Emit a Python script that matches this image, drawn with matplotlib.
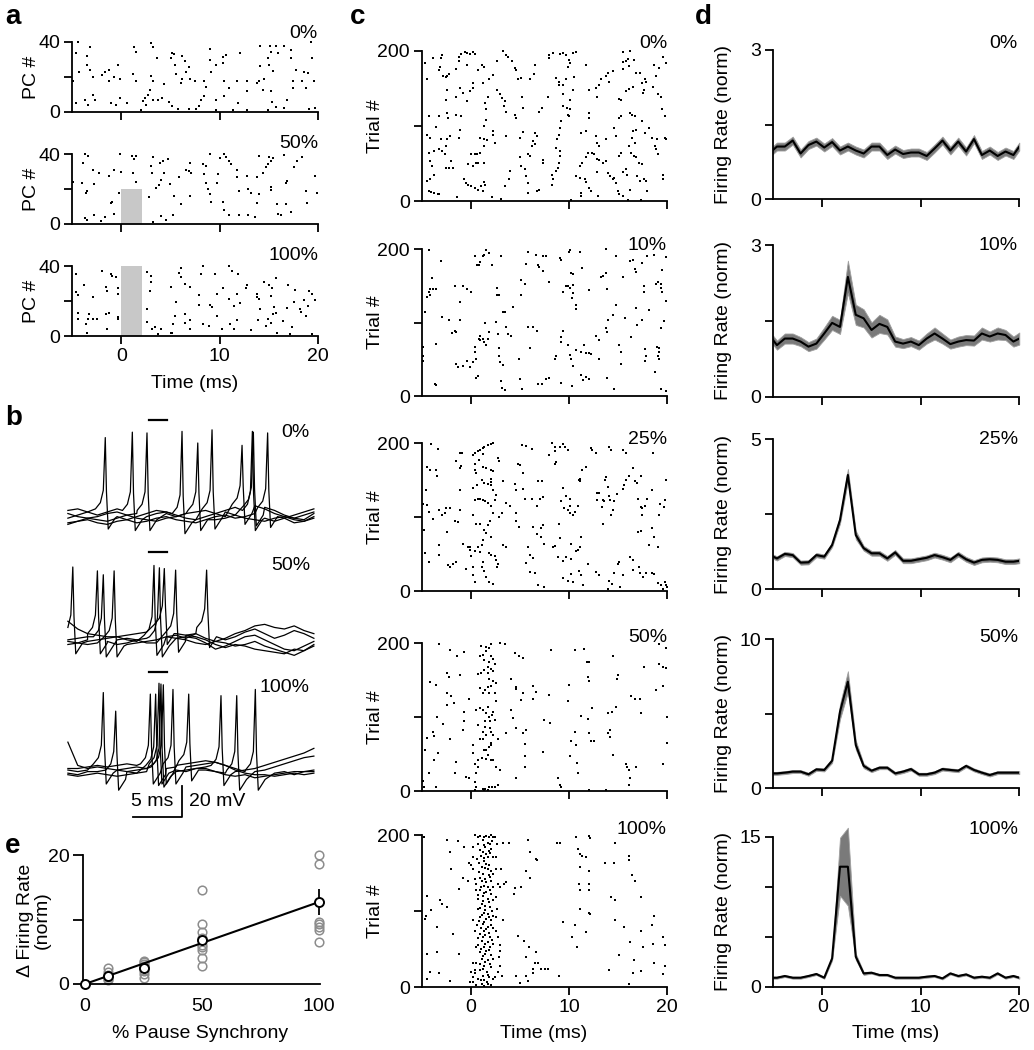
import numpy as np
import matplotlib
matplotlib.use('Agg')
import matplotlib.pyplot as plt

plt.rcParams['font.family'] = ['Liberation Sans', 'DejaVu Sans']
plt.rcParams['font.size'] = 14

W, H = 1034, 1050
FS = 14

# ---------------- panel a: PC rasters (time ms, PC #) ----------------
a_labels = ['0%', '50%', '100%']
a_pause = [0, 20, 40]   # height of grey pause box
a_spk_0 = [(-4.35,40),(-4.6,33.5),(-4.9,18),(-4.3,23),(-4.55,5),(-3.5,32),(-3.5,27),(-3.2,37),(-3.2,24),(-2.9,20),
           (-3.7,7),(-3.4,4),(-2.9,10),(-2.65,7),(-2.0,21),(-1.6,23),(-1.2,24),(-1.2,17.5),(-0.7,20),(-0.3,27),
           (-0.1,19),(-1.05,5),(-0.55,4),(-0.15,8),(0.6,5),(1.3,37),(1.55,34.5),(1.15,22),(1.55,18),(2.0,1),
           (2.25,6.5),(2.45,8),(2.5,4),(2.7,10),(2.9,12.5),(3.0,20.5),(3.0,39.5),(3.2,37),(3.2,18),(3.2,7),
           (3.6,31),(3.75,7),(4.35,16),(4.15,8),(4.9,6),(5.1,31),(5.2,34),(5.4,33),(5.5,27),(5.6,22),
           (5.2,3.5),(5.75,2),(6.2,32),(6.2,19),(6.1,16.5),(6.45,29),(6.6,23),(6.9,26),(7.0,19),(6.9,2),
           (7.45,17.5),(7.6,2),(7.9,3.5),(8.15,7),(8.45,17.5),(8.65,14.5),(8.45,9),(9.0,36),(9.0,30),(9.15,23),
           (9.65,27),(9.6,7),(9.6,1.2),(10.3,31.5),(10.3,28),(10.4,18),(10.4,9),(10.6,32.5),(11.0,14),(11.35,1.2),
           (11.75,17.5),(12.1,33.5),(11.9,5),(12.8,17.5),(12.8,12),(12.8,1.2),(13.8,16.5),(14.0,17.5),(14.1,37.5),(14.15,26.5),
           (14.5,19),(14.4,12.5),(14.9,1.2),(15.0,27),(14.9,31),(15.1,37.5),(15.2,34.5),(15.4,23.5),(15.2,12),(15.3,5.5),
           (15.7,37.5),(15.95,34),(15.7,3),(16.5,37.5),(16.5,2.5),(16.8,7),(17.3,35.5),(17.3,31),(17.5,17.5),(17.5,14),
           (17.75,24),(18.35,18),(18.6,23),(18.8,14),(19.0,22.5),(19.25,40),(19.35,31),(19.6,17.5),(19.1,1.5),(19.7,2.5)]
a_spk_50 = [(-4.9,24),(-3.9,34.7),(-3.7,40),(-3.35,39),(-3.95,23.6),(-3.45,19),(-3.55,17.5),(-2.75,23),(-2.9,31),(-2.25,29),
            (-3.7,3.2),(-3.5,2.3),(-2.75,5),(-2.1,2),(-1.65,4),(-1.2,27.4),(-0.7,31),(-0.9,12.8),(-1.05,11.8),(-0.7,6),
            (-0.15,40),(-0.05,30),(-0.2,17.5),(1.1,39),(1.3,37),(1.55,39),(1.2,29),(1.55,24),(3.2,38.5),(3.0,33),
            (3.1,29),(2.85,15.6),(3.25,1.3),(3.5,20.4),(3.8,22.3),(4.05,25),(4.3,29),(4.2,36),(3.9,35),(4.05,4.6),
            (4.55,2.3),(4.75,37),(5.0,23),(5.25,5),(5.4,16),(5.9,27),(6.1,11.4),(6.6,31),(6.9,30.5),(7.0,34.7),
            (7.1,29),(6.95,16),(8.35,34.3),(8.45,28.6),(8.65,33),(8.65,23.6),(8.8,19.8),(9.0,17),(9.0,40),(9.15,12.8),
            (9.7,23.6),(9.8,28.6),(10.0,37.5),(10.4,40),(10.6,38.5),(10.95,36),(11.2,34.3),(10.3,12.8),(10.4,8),(11.0,5),
            (11.75,31),(11.75,27),(11.95,19),(11.95,5),(12.8,27.4),(12.9,19.8),(13.15,17.9),(12.9,5),(13.6,4.2),(13.8,26.7),
            (14.0,39),(14.0,17),(13.8,12),(14.4,29.3),(14.7,32.4),(14.9,34.3),(15.0,38.5),(15.2,36),(15.45,38),(15.2,21),
            (15.2,19.4),(15.8,11.4),(15.95,6),(16.2,5),(16.5,39.4),(16.7,23.6),(16.9,24.8),(16.7,11.4),(17.3,7),(17.6,32.7),
            (17.9,36),(18.35,38.5),(18.8,19),(18.9,12.2),(19.7,27.4),(19.85,18)]
a_spk_100 = [(-4.6,35.4),(-4.6,25.2),(-4.4,23.3),(-4.35,13),(-4.35,9.8),(-3.5,1.5),(-3.8,29),(-3.25,12.7),(-3.4,9.8),(-3.55,7),
             (-2.85,22.3),(-2.9,9.8),(-2.5,9.8),(-1.95,37.3),(-1.5,28),(-1.4,26),(-1.55,12.7),(-1.2,13),(-1.4,4),(-1.0,35.4),
             (-0.95,34.2),(-0.55,33.8),(-0.35,27.7),(-0.3,23.8),(-0.3,10.8),(-0.3,9.8),(2.6,36.7),(3.0,34.2),(3.0,31),(2.9,26),
             (2.6,15.6),(2.6,7.9),(3.15,4),(3.45,5),(3.7,1.2),(4.05,4),(5.05,1.5),(5.2,2),(5.1,28),(5.25,7),
             (5.5,11.7),(5.6,19.4),(5.85,36),(6.1,39),(6.1,33.8),(6.45,30),(6.5,12.3),(6.45,7.3),(6.95,9.2),(7.0,4),
             (6.95,28),(7.9,18),(7.95,23.3),(8.1,35.4),(8.35,40),(8.35,7),(9.0,18),(8.9,6),(9.25,16.5),(9.5,35.4),
             (9.7,24.2),(9.7,11.7),(10.2,4),(10.3,27.7),(10.95,40),(11.3,37.3),(11.0,21.3),(11.1,7),(11.45,17),(11.5,4),
             (11.75,9.2),(11.75,23.8),(11.9,35.4),(12.1,18.8),(12.65,27.7),(12.8,29),(13.2,3.5),(13.75,24.2),(13.8,22.3),(14.0,21.3),
             (13.9,9.2),(14.15,15.6),(14.5,31),(14.7,6),(14.95,9.8),(15.0,29),(15.2,22.7),(15.3,27.7),(15.4,12.7),(15.2,7.3),
             (15.5,16.5),(15.7,33.4),(15.7,13),(15.85,1.5),(16.45,8.5),(16.9,16),(17.0,29),(17.2,1.2),(17.4,5.4),(17.55,19.4),
             (17.65,26.5),(18.15,15.6),(18.3,13.6),(18.6,20.8),(18.8,11.7),(19.0,17),(19.1,25.8),(19.35,24.2),(19.35,1.2),(19.7,20.8)]
a_spikes = [a_spk_0, a_spk_50, a_spk_100]

# ---------------- panel b: membrane potential traces (mV, relative to rest) ----------------
b_labels = ['0%', '50%', '100%']
b_time = np.arange(-5.5, 20.0, 1.0)   # baseline sample times (ms)
b_base_0 = [[-2, 0, 2, 3, 1, -1, -3, -1, 1, 3, 2, 0, -2, -3, -1, 1, 3, 5, 2, 0, -2, -4, -2, 0, 2, 4],
            [3, 4, 2, 0, 2, 4, 2, 0, -1, 1, 2, 0, -2, -3, -1, 1, 2, 0, -2, -3, -4, -2, -1, -3, -4, -1],
            [-5, -4, -2, -3, -4, -2, 0, 1, 0, 2, 1, -1, 1, 2, 3, 1, -1, 1, 4, 6, 4, 1, -1, -2, -3, 1],
            [1, -1, -2, -1, 1, 2, 0, -2, -3, -4, -2, -1, 1, 0, -2, -3, -2, 0, 1, 3, 5, 3, 0, -2, 0, 2],
            [-6, -4, -3, -5, -6, -4, -3, -5, -4, -2, -1, -3, -4, -5, -3, -1, 0, -2, -1, 1, 2, 0, -2, -5, -4, -2]]
b_spk_0 = [[(-1.7, 50), (6.1, 54), (13.25, 54)],
           [(1.05, 53.5), (9.15, 55)],
           [(2.54, 53), (12.2, 45)],
           [(7.7, 46.5), (13.35, 53.5)],
           [(14.8, 53)]]
b_base_50 = [[1, 0, -1, 0, 1, 2, 0, -1, -2, 0, 2, 1, 0, -2, -3, -1, 1, 4, 6, 9, 10, 8, 7, 9, 6, 4],
             [-1, -2, 0, 1, -1, -3, -2, 0, 1, -1, -2, 1, 2, 1, -2, -6, -4, -1, 2, 3, 0, -3, -6, -7, -4, -1],
             [0, 1, 2, 1, -1, 0, 1, 0, -2, -2, 0, 2, 3, 2, 0, -3, -5, -3, -4, -6, -7, -8, -9, -6, -7, -4],
             [-3, -2, -3, -2, 0, -1, -3, -2, -1, 0, 2, 3, 1, 4, 5, 2, 0, 2, 5, 7, 4, 1, 3, 6, 4, 1],
             [12, 7, 4, 3, 2, 2, 3, 4, 5, 6, 7, 4, 3, 4, 1, -1, -2, -4, -3, -1, -4, -6, -8, -10, -7, -3]]
b_spk_50 = [[(-5.0, 47), (3.25, 48)],
            [(-2.5, 44.5), (3.8, 46.5)],
            [(-1.9, 42), (5.45, 45)],
            [(-0.8, 44.5), (8.6, 45)],
            [(4.3, 46)]]
b_base_100 = [[0, -1, 0, 1, 1, 0, -1, -2, -1, 1, 1, 0, -1, 1, 2, 1, 0, -1, 0, 1, 3, 5, 7, 9, 11, 14],
              [-2, -3, -1, -1, -2, -3, -1, 0, 1, -1, -2, -1, 0, 1, 1, -1, -2, -3, -3, -1, 0, 2, 4, 6, 8, 9],
              [1, 1, 2, 3, 2, 3, 4, 3, 1, 0, -1, 1, 2, 3, 4, 5, 3, 1, -1, -3, -3, -2, -1, -3, -1, 0],
              [-3, -4, -3, -2, -3, -4, -3, -2, -1, 0, 1, 2, 3, 1, 0, -1, -3, -4, -3, -5, -4, -3, -2, -1, -1, -1],
              [18, 3, 1, 2, 1, 0, 1, 2, 1, 0, 1, 3, 4, 5, 6, 5, 3, 0, -2, -3, -3, -4, -3, -2, -3, -2]]
b_spk_100 = [[(-1.9, 50), (3.76, 56), (10.06, 48)],
             [(-0.64, 38), (3.96, 55.5), (11.66, 48)],
             [(2.88, 49), (5.18, 52), (13.55, 52)],
             [(3.42, 49), (6.78, 49)],
             [(4.2, 55)]]
b_bases = [b_base_0, b_base_50, b_base_100]
b_spks = [b_spk_0, b_spk_50, b_spk_100]
b_offsets = [193.5, 113, 29]        # vertical stacking of the three groups (mV)
b_bar_y = [255, 170, 92]
b_bar_t = (2.7, 4.6)
# spike waveform (ms from peak, mV from baseline); None = peak
spike_dt = [-1.0, -0.5, -0.2, 0.0, 0.12, 0.3, 0.6, 1.0]
spike_dv = [3, 7, 15, None, 14, -10, -7, -3]

# ---------------- panel c: trial rasters (time ms, trial #) ----------------
c_labels = ['0%', '10%', '25%', '50%', '100%']
c_spk_0 = [(-4.7,184),(-4.5,163),(-4.3,113),(-4.5,88),(-4.2,84),(-4.3,64),(-4.2,53),(-4.0,46),(-4.2,29),(-4.5,27),
           (-4.3,13),(-4.1,12),(-3.7,11),(-3.3,10),(-3.2,9),(-3.7,35),(-3.7,66),(-3.2,69),(-2.9,66),(-2.6,62),
           (-2.5,73),(-3.2,113),(-3.5,98),(-3.0,190),(-3.1,179),(-3.2,175),(-2.8,166),(-2.5,165),(-2.4,167),(-2.2,169),
           (-2.4,148),(-2.5,135),(-2.4,117),(-2.3,111),(-2.1,86),(-2.4,82),(-3.0,82),(-2.5,44),(-2.2,44),(-1.8,44),
           (-2.0,53),(-1.5,115),(-1.5,139),(-1.4,6),(-2.9,195),(-3.8,190),(-1.5,176),(-1.2,186),(-1.2,192),(-0.95,196),
           (-0.6,198),(-0.4,181),(-0.4,197),(-0.1,196),(0.24,199),(0.4,196),(-1.05,150),(-0.8,144),(-0.95,113),(-1.1,95),
           (-1.2,84),(-0.4,133),(-0.1,146),(0.24,157),(0.24,150),(-0.3,49),(0.24,46),(0.58,51),(0.75,51),(-0.5,24),
           (-0.7,29),(-0.3,22),(0.07,20),(0.4,18),(0.75,15),(1.0,20),(1.3,25),(1.5,22),(1.25,13),(1.3,51),
           (1.3,73),(1.65,81),(1.3,83),(0.9,64),(0.64,63),(0.4,62),(0.07,62),(0.9,84),(1.3,100),(1.6,108),
           (1.5,131),(1.75,139),(1.6,122),(1.1,181),(1.3,179),(0.75,175),(1.25,157),(1.9,162),(2.3,168),(2.3,93),
           (2.3,88),(2.45,77),(2.7,186),(2.7,148),(2.95,143),(3.2,137),(3.45,133),(3.35,126),(3.6,119),(3.6,87),
           (3.45,20),(3.1,3),(2.2,6),(3.9,29),(4.0,40),(3.8,192),(3.6,195),(3.3,200),(4.2,186),(4.5,177),
           (4.6,175),(4.5,115),(4.6,111),(4.8,162),(5.15,164),(5.25,139),(5.3,124),(5.3,92),(5.05,84),(5.15,46),
           (5.0,58),(5.8,62),(6.0,60),(5.5,42),(5.65,33),(5.8,24),(5.8,11),(6.2,73),(6.35,80),(6.5,76),
           (6.5,90),(6.7,86),(6.0,162),(6.5,181),(6.4,169),(6.7,13),(7.0,15),(7.3,124),(7.0,119),(7.4,55),
           (7.4,51),(7.9,139),(8.0,190),(8.0,195),(8.4,197),(8.3,22),(8.4,29),(8.3,35),(8.7,40),(8.9,44),
           (9.0,51),(9.05,60),(9.1,66),(8.7,71),(8.8,82),(9.0,88),(9.05,97),(9.2,106),(8.7,164),(9.0,159),
           (9.0,155),(9.4,155),(9.45,142),(9.7,162),(9.45,126),(9.8,124),(9.9,115),(10.0,113),(10.1,122),(10.1,135),
           (10.4,148),(10.5,165),(9.9,179),(10.4,197),(10.75,199),(9.05,196),(9.4,197),(9.7,195),(10.0,188),(10.1,184),
           (10.2,2),(10.75,33),(11.1,31),(11.25,11),(11.25,7),(11.6,29),(11.75,25),(12.0,18),(12.3,13),(12.95,7),
           (11.1,46),(11.35,51),(11.7,58),(11.9,64),(11.25,91),(11.75,93),(12.1,111),(12.1,117),(12.4,64),(12.6,62),
           (12.85,56),(13.1,54),(13.5,51),(11.75,181),(12.1,148),(12.8,150),(13.1,154),(12.85,139),(13.3,162),(13.8,167),
           (13.95,171),(14.1,158),(14.5,173),(12.8,86),(12.85,77),(13.1,73),(12.85,38),(13.8,82),(13.8,53),(13.95,37),
           (14.2,33),(14.5,29),(14.6,31),(14.8,24),(15.0,13),(15.15,10),(15.5,7),(16.0,2),(15.15,60),(15.3,64),
           (15.5,38),(15.8,42),(15.9,35),(14.8,86),(14.6,97),(15.15,111),(15.3,113),(15.3,135),(15.1,136),(15.5,176),
           (15.5,185),(15.8,186),(16.0,189),(16.1,180),(15.8,146),(16.1,149),(16.5,152),(16.2,117),(16.4,115),(16.7,113),
           (16.85,95),(16.5,93),(16.4,84),(16.7,77),(16.1,73),(16.3,64),(16.6,60),(16.85,59),(17.1,51),(17.45,49),
           (16.9,33),(17.2,27),(17.7,29),(17.9,27),(18.0,13),(17.35,2),(16.2,15),(15.5,199),(16.2,200),(16.6,188),
           (16.85,171),(17.2,170),(17.45,157),(17.8,162),(17.9,159),(17.6,144),(17.7,148),(17.5,106),(17.8,91),(18.2,97),
           (18.5,84),(18.8,73),(18.9,69),(19.05,62),(18.95,82),(18.6,152),(18.7,181),(18.9,166),(19.2,177),(19.4,139),
           (19.05,142),(19.5,122),(19.8,113),(19.8,84),(19.9,82),(19.55,34),(19.55,29),(19.9,184),(19.55,192)]
c_spk_10 = [(-4.3,198),(-4.0,161),(-4.2,146),(-4.3,142),(-4.5,135),(-4.7,114),(-4.2,137),(-3.8,145),(-3.5,146),(-3.0,184),
            (-3.5,71),(-3.6,17),(-3.5,15),(-4.85,66),(-4.85,55),(-4.9,47),(-2.9,108),(-2.2,103),(-1.6,88),(-1.5,87),
            (-1.9,86),(-1.05,103),(-1.6,149),(-0.8,150),(-0.4,145),(0.07,141),(-1.1,128),(-1.5,43),(-1.3,39),(-0.8,41),
            (-0.4,48),(-0.1,39),(0.24,46),(0.5,50),(0.4,60),(0.4,66),(0.9,82),(0.85,78),(0.9,76),(1.25,78),
            (1.4,73),(1.6,69),(1.75,78),(1.85,87),(1.5,99),(0.58,25),(0.75,27),(0.4,190),(0.64,178),(0.85,178),
            (0.9,182),(1.25,190),(1.4,192),(1.6,198),(1.85,195),(2.2,178),(3.1,190),(2.7,147),(2.9,137),(2.7,138),
            (2.55,101),(2.8,85),(2.9,65),(2.9,55),(2.95,46),(3.3,42),(3.05,21),(3.2,11),(3.45,8),(3.3,114),
            (3.6,94),(3.8,85),(4.15,81),(3.45,114),(4.3,121),(4.9,50),(5.05,23),(5.25,9),(5.15,137),(5.15,158),
            (5.5,153),(5.6,180),(5.8,196),(6.05,65),(5.8,94),(6.35,94),(6.7,88),(6.6,192),(6.85,178),(7.0,175),
            (7.4,170),(7.4,190),(7.7,190),(8.0,155),(6.85,16),(7.3,17),(7.7,23),(8.0,25),(8.65,55),(8.55,50),
            (9.2,73),(9.2,80),(9.4,89),(9.2,18),(9.05,188),(9.2,185),(9.45,142),(9.7,150),(9.9,150),(10.15,147),
            (10.35,133),(10.4,140),(10.4,151),(10.7,119),(10.75,124),(10.15,56),(9.9,69),(10.25,51),(10.4,41),(10.7,62),
            (10.35,14),(10.0,196),(10.1,198),(10.25,167),(10.4,166),(11.1,196),(11.35,174),(11.5,69),(11.25,28),(11.4,22),
            (11.75,26),(12.1,23),(11.25,60),(11.7,59),(12.1,58),(12.3,57),(12.1,144),(12.8,82),(13.05,76),(13.05,51),
            (13.3,162),(13.45,163),(13.8,167),(13.85,146),(13.95,104),(13.8,92),(13.85,87),(13.85,25),(13.8,200),(14.8,191),
            (14.5,110),(14.8,124),(14.55,9),(15.15,69),(15.3,60),(15.3,43),(15.5,162),(15.75,106),(16.3,80),(16.2,183),
            (16.5,185),(16.7,173),(16.8,169),(16.85,120),(16.9,96),(17.45,104),(17.5,181),(17.7,142),(17.7,150),(17.8,64),
            (17.85,55),(17.8,48),(18.0,191),(18.2,117),(18.7,192),(18.9,153),(19.05,155),(19.4,147),(19.5,142),(19.4,153),
            (19.5,172),(18.95,66),(19.15,65),(19.2,60),(19.05,55),(19.15,51),(18.8,32),(19.4,92),(19.65,102),(19.85,129),
            (19.9,189),(19.85,7),(19.4,9)]
c_spk_25 = [(-4.1,199),(-3.3,192),(-4.5,168),(-4.2,163),(-3.5,164),(-3.4,156),(-4.6,137),(-4.85,118),(-4.5,116),(-4.3,107),
            (-3.8,97),(-3.2,110),(-2.9,103),(-2.5,112),(-2.1,112),(-2.6,105),(-1.6,94),(-1.3,93),(-1.1,110),(-1.1,137),
            (-1.5,176),(-1.1,186),(-0.85,186),(-1.0,169),(-1.05,166),(-4.8,82),(-4.7,51),(-4.3,39),(-3.2,48),(-3.2,62),
            (-2.4,80),(-2.1,33),(-2.3,35),(-1.8,37),(-1.5,39),(-0.8,64),(-0.5,30),(-0.3,60),(-0.1,55),(0.07,47),
            (0.24,33),(0.24,21),(0.4,12),(-0.03,60),(0.4,54),(0.75,60),(1.1,62),(1.4,83),(1.75,89),(2.0,94),
            (1.6,79),(1.25,69),(2.1,73),(1.85,51),(2.1,48),(2.45,47),(0.9,53),(1.25,39),(1.1,33),(1.4,27),
            (1.6,19),(1.9,12),(2.3,10),(2.6,42),(2.7,33),(2.8,37),(0.58,91),(0.9,91),(0.24,103),(0.4,123),
            (0.75,125),(0.9,124),(1.2,123),(1.5,121),(1.75,119),(2.1,115),(2.3,106),(0.24,139),(0.64,143),(1.1,150),
            (1.4,146),(1.75,145),(2.1,147),(2.3,137),(2.1,152),(2.1,143),(0.4,164),(0.58,159),(0.4,171),(0.85,177),
            (1.25,168),(1.6,166),(2.1,164),(2.3,162),(0.24,184),(0.4,186),(0.75,189),(0.9,191),(1.2,193),(1.4,195),
            (1.75,197),(2.1,199),(2.3,200),(1.25,185),(2.8,180),(2.9,176),(2.6,130),(2.45,123),(2.9,100),(3.3,148),
            (3.2,105),(3.3,62),(3.6,60),(3.6,119),(4.0,115),(4.6,95),(4.6,105),(4.6,137),(4.9,87),(4.8,171),
            (5.0,170),(5.3,159),(5.25,197),(5.65,196),(6.2,192),(4.5,144),(5.3,138),(5.5,125),(6.2,125),(6.7,115),
            (6.35,87),(6.7,77),(7.2,85),(7.35,89),(7.2,73),(7.5,64),(5.8,59),(6.05,49),(5.65,38),(6.35,44),
            (6.5,24),(6.0,26),(6.85,8),(7.5,6),(7.1,124),(7.4,127),(6.85,148),(7.3,149),(8.0,184),(8.3,200),
            (8.55,195),(8.55,189),(8.7,175),(8.55,171),(9.05,195),(9.4,198),(9.65,195),(9.9,191),(9.2,122),(9.4,139),
            (9.7,128),(10.1,125),(10.1,115),(9.55,112),(9.9,110),(10.1,105),(10.4,103),(10.6,107),(10.9,115),(11.1,151),
            (11.1,148),(11.35,164),(11.75,168),(11.0,150),(9.0,91),(9.05,72),(8.4,60),(8.55,61),(8.9,46),(9.45,40),
            (9.7,46),(10.2,43),(10.75,54),(10.9,55),(11.25,73),(11.1,60),(10.2,64),(9.4,17),(9.9,14),(10.2,23),
            (10.4,12),(11.0,27),(11.25,21),(11.4,8),(11.9,37),(12.3,193),(12.4,191),(12.8,186),(12.85,133),(13.1,132),
            (12.85,123),(13.5,123),(13.6,121),(13.4,114),(13.8,154),(13.7,150),(13.95,140),(14.1,128),(14.2,123),(14.5,110),
            (14.3,103),(14.6,121),(14.9,131),(13.5,91),(12.8,26),(13.1,21),(14.1,14),(14.4,10),(14.6,24),(15.0,37),
            (15.1,39),(15.5,21),(15.2,5),(13.95,3),(14.1,195),(14.3,191),(15.5,191),(15.8,186),(15.65,143),(15.8,150),
            (16.1,156),(15.55,138),(16.5,166),(16.7,148),(16.9,146),(17.35,156),(17.0,125),(17.35,113),(17.5,112),(17.8,115),
            (18.0,124),(17.45,103),(18.5,137),(19.15,103),(19.3,118),(19.7,114),(19.8,123),(19.9,150),(18.6,186),(18.5,85),
            (19.05,60),(18.7,73),(18.2,62),(17.0,80),(17.35,81),(16.25,46),(16.5,42),(16.5,28),(17.2,24),(17.1,33),
            (17.6,19),(17.9,24),(18.5,24),(18.7,23),(19.05,11),(19.4,8),(19.8,12),(19.9,8),(20.0,5),(19.55,3)]
c_spk_50 = [(-3.25,199),(-2.1,191),(-1.4,182),(-0.7,188),(-4.2,147),(-3.55,143),(-2.4,159),(-2.2,154),(-1.1,157),(-2.4,132),
            (-2.0,129),(-1.7,119),(-2.4,116),(-2.8,91),(-3.4,100),(-3.8,80),(-3.75,74),(-4.5,72),(-4.7,55),(-3.7,42),
            (-3.3,51),(-4.3,24),(-4.85,14),(-4.8,5),(-3.5,6),(-2.1,70),(-1.5,39),(-1.6,24),(-0.7,95),(-0.7,107),
            (-0.8,82),(-0.2,125),(0.24,62),(-0.45,19),(-0.2,17),(0.4,12),(0.5,24),(0.75,33),(0.58,5),(1.25,3),
            (1.5,3),(1.9,5),(2.2,5),(2.45,5),(2.8,8),(0.24,51),(0.4,37),(0.75,42),(1.1,45),(1.3,55),
            (1.6,56),(1.85,60),(2.1,62),(1.75,48),(1.6,43),(2.1,42),(2.3,42),(2.6,33),(2.95,28),(1.6,76),
            (1.25,80),(1.5,87),(2.0,85),(2.1,80),(2.3,76),(2.8,70),(1.25,70),(0.9,70),(2.1,65),(1.6,105),
            (1.85,100),(2.2,103),(2.45,96),(2.0,94),(1.5,94),(0.75,89),(0.58,110),(0.9,112),(1.25,110),(1.75,114),
            (2.3,107),(2.6,121),(2.45,132),(1.85,132),(1.5,137),(1.2,133),(0.9,139),(1.75,140),(2.1,142),(2.3,148),
            (2.6,146),(1.9,152),(1.75,159),(1.3,163),(1.0,159),(0.75,158),(2.1,165),(1.75,168),(2.3,162),(1.3,177),
            (0.9,182),(1.2,184),(1.6,189),(1.9,193),(2.1,198),(1.6,195),(1.0,196),(2.1,182),(2.45,171),(1.85,174),
            (2.3,178),(2.95,200),(3.45,198),(3.6,78),(4.5,186),(4.9,182),(5.3,180),(4.15,152),(4.6,141),(4.6,138),
            (5.15,123),(5.3,132),(4.15,110),(4.3,98),(4.6,85),(5.65,82),(5.3,78),(5.5,64),(5.5,47),(5.5,33),
            (4.6,17),(6.35,142),(6.6,134),(6.35,125),(7.35,53),(7.5,96),(8.1,92),(7.95,130),(8.2,191),(8.9,17),
            (9.05,8),(9.2,5),(10.0,143),(9.9,121),(10.25,67),(10.15,47),(10.7,62),(10.6,80),(10.8,38),(10.9,24),
            (10.6,190),(11.5,192),(11.25,101),(11.9,97),(12.0,78),(12.3,67),(11.9,154),(12.1,148),(11.8,175),(12.1,174),
            (12.4,112),(12.6,67),(13.95,105),(14.2,82),(14.4,107),(14.8,114),(14.2,73),(14.5,48),(15.0,157),(14.9,152),
            (14.5,182),(13.95,78),(15.8,36),(15.9,33),(16.1,28),(16.2,17),(16.8,32),(16.1,8),(16.3,128),(16.7,125),
            (17.25,125),(17.35,106),(17.7,167),(18.9,136),(19.15,171),(19.55,168),(19.9,166),(19.55,142),(20.0,100),(20.0,65),
            (19.55,37),(19.2,198),(19.9,193),(13.8,2),(12.1,2),(0.4,2),(1.3,1),(1.75,2)]
c_spk_100 = [(0.4,200),(0.75,188),(0.9,199),(1.3,197),(1.6,199),(1.85,198),(2.1,200),(2.3,197),(1.25,193),(1.75,190),
             (2.0,188),(2.2,192),(1.5,184),(1.85,179),(2.1,182),(1.25,177),(1.6,175),(1.0,173),(0.64,168),(0.24,171),
             (1.75,171),(2.3,171),(1.3,166),(1.6,162),(1.1,158),(1.75,155),(2.1,153),(0.85,151),(1.25,149),(1.85,147),
             (2.3,149),(1.5,142),(1.1,140),(2.1,140),(0.58,136),(1.3,133),(1.75,131),(2.3,131),(0.9,127),(1.6,125),
             (2.1,123),(1.25,120),(0.75,116),(1.75,116),(2.3,114),(1.1,109),(1.5,107),(2.0,105),(0.75,103),(1.3,98),
             (1.75,96),(2.3,94),(0.9,92),(1.6,90),(2.1,88),(1.2,83),(0.64,81),(1.75,79),(2.3,77),(1.3,74),
             (0.9,70),(1.5,68),(2.0,66),(1.1,61),(1.75,59),(2.3,57),(0.75,55),(1.3,53),(1.85,49),(0.9,46),
             (1.5,44),(2.1,42),(1.1,37),(1.75,35),(0.58,31),(1.3,28),(2.1,26),(0.9,22),(1.65,20),(0.4,18),
             (1.25,15),(1.9,13),(0.75,11),(1.4,9),(0.24,7),(1.1,4),(1.75,4),(0.58,2),(1.4,1),(-0.1,7),
             (0.24,13),(0.4,22),(2.6,74),(2.8,66),(2.95,55),(2.95,48),(2.9,39),(3.0,28),(3.2,15),(2.55,92),
             (2.7,103),(2.95,131),(2.8,136),(2.6,118),(2.55,171),(2.55,155),(2.7,188),(2.45,197),(2.1,2),(2.45,13),
             (2.8,20),(0.07,20),(0.24,31),(0.58,53),(0.4,74),(0.24,88),(0.58,127),(0.4,142),(0.24,155),(0.24,184),
             (0.75,197),(1.4,187),(0.9,180),(2.0,176),(1.4,170),(0.8,163),(1.9,160),(1.5,156),(2.0,145),(0.9,144),
             (1.6,138),(1.0,132),(2.0,128),(1.4,124),(0.7,121),(1.9,112),(1.2,113),(0.9,104),(2.2,100),(1.5,101),
             (1.1,95),(1.9,92),(1.4,86),(0.8,87),(2.1,82),(1.6,76),(1.0,78),(1.9,71),(1.2,66),(0.7,64),
             (2.2,62),(1.5,57),(1.0,50),(2.0,52),(1.6,47),(1.2,41),(2.3,37),(1.5,33),(0.9,30),(2.0,30),
             (1.2,24),(1.8,16),(1.0,9),(1.7,7),(2.3,10),
             (-4.75,197),(-2.4,193),(-1.3,192),(-0.7,184),(-2.1,177),(-2.0,155),(-1.2,129),(-0.2,163),(0.07,161),(-0.8,144),
             (-0.3,140),(-3.1,114),(-2.9,109),(-2.4,105),(-4.5,120),(-4.1,101),(-4.6,94),(-4.7,90),(-3.4,79),(-1.8,70),
             (-1.2,43),(-3.4,46),(-4.5,44),(-2.1,8),(-4.2,20),(-3.2,18),(-4.5,10),(3.3,189),(3.9,189),(3.1,155),
             (3.35,136),(3.6,138),(3.3,88),(4.4,123),(4.5,130),(5.15,132),(5.65,152),(6.0,144),(5.8,193),(6.05,177),
             (6.6,168),(6.75,167),(4.8,67),(5.4,61),(5.9,53),(6.6,46),(5.65,39),(6.5,32),(6.85,32),(7.2,24),
             (7.6,24),(7.85,24),(6.35,24),(6.3,18),(5.6,14),(4.65,14),(5.0,5),(5.8,8),(9.0,14),(8.8,189),
             (9.4,86),(10.7,197),(10.9,182),(11.1,175),(11.35,172),(11.1,158),(11.75,171),(11.0,135),(11.1,128),(12.1,136),
             (12.1,128),(12.1,153),(11.1,103),(12.1,98),(12.2,96),(10.6,81),(10.35,66),(10.8,53),(11.7,73),(13.7,163),
             (14.55,163),(14.75,190),(16.1,173),(16.1,167),(16.45,147),(16.7,139),(14.3,119),(14.65,114),(14.75,88),(17.35,118),
             (18.7,94),(18.5,81),(17.35,74),(16.25,59),(17.6,52),(18.55,56),(19.6,66),(19.8,55),(15.1,42),(16.6,35),
             (17.35,21),(18.7,31),(19.8,28),(19.6,17),(14.1,22),(16.5,18),(16.1,4),(12.2,196),(9.05,190),(12.1,199),
             (15.65,79)]
c_spikes = [c_spk_0, c_spk_10, c_spk_25, c_spk_50, c_spk_100]

# ---------------- panel d: PSTH (normalised firing rate) ----------------
d_labels = ['0%', '10%', '25%', '50%', '100%']
d_time = np.concatenate([[-5.0], np.arange(-4.6, 19.5, 0.8), [20.0]])
d_rate_0 = [0.99, 1.06, 1.06, 1.18, 0.92, 1.09, 1.16, 1.04, 1.15, 0.98, 1.06, 0.98, 0.92, 1.06, 1.06, 0.89, 1.0,
            0.91, 0.94, 0.94, 0.87, 1.02, 1.18, 0.98, 1.16, 0.96, 1.21, 0.89, 0.98, 0.87, 0.96, 0.89, 1.06]
d_err_0 = [0.08] * 33
d_rate_10 = [1.12, 1.02, 1.15, 1.15, 1.09, 0.99, 1.05, 1.25, 1.46, 1.38, 2.37, 1.62, 1.55, 1.32, 1.44, 1.38, 1.09,
             1.05, 1.09, 1.02, 1.15, 1.25, 1.15, 1.04, 1.09, 1.12, 1.11, 1.25, 1.19, 1.25, 1.22, 1.09, 1.15]
d_err_10 = [0.09, 0.09, 0.1, 0.1, 0.09, 0.09, 0.1, 0.12, 0.14, 0.14, 0.32, 0.2, 0.18, 0.15, 0.18, 0.15, 0.1,
            0.09, 0.09, 0.09, 0.1, 0.12, 0.1, 0.09, 0.1, 0.1, 0.1, 0.12, 0.1, 0.12, 0.1, 0.1, 0.12]
d_rate_25 = [1.08, 1.02, 1.17, 1.13, 0.88, 0.89, 1.13, 1.08, 1.47, 2.3, 3.8, 1.8, 1.36, 1.19, 1.19, 1.02, 1.22,
             0.94, 0.94, 0.99, 1.04, 1.13, 1.06, 0.97, 1.16, 0.99, 0.88, 0.97, 0.99, 0.97, 0.91, 0.91, 0.94]
d_err_25 = [0.07] * 9 + [0.12, 0.2, 0.14] + [0.08] * 21
d_rate_50 = [1.0, 1.0, 1.05, 1.12, 1.12, 0.94, 1.27, 1.23, 1.85, 5.13, 7.14, 2.9, 1.5, 1.18, 1.38, 1.38, 1.0,
             1.12, 1.29, 0.94, 0.94, 1.05, 1.29, 1.23, 1.18, 1.5, 1.23, 1.05, 0.89, 1.05, 1.05, 1.05, 1.05]
d_err_50 = [0.1] * 8 + [0.15, 0.5, 0.7, 0.3, 0.15] + [0.1] * 20
d_rate_100 = [0.9, 0.9, 1.07, 0.9, 0.9, 1.07, 1.27, 0.9, 2.83, 12.0, 12.0, 3.0, 1.33, 1.4, 1.17, 1.17, 0.9,
              0.9, 0.9, 0.9, 1.0, 1.07, 0.83, 1.33, 1.07, 1.23, 0.9, 1.0, 0.9, 1.33, 0.9, 1.07, 0.9]
d_err_100 = [0.1] * 8 + [0.2, 2.9, 3.9, 0.3, 0.15] + [0.1] * 20
d_rates = [d_rate_0, d_rate_10, d_rate_25, d_rate_50, d_rate_100]
d_errs = [d_err_0, d_err_10, d_err_25, d_err_50, d_err_100]
d_ymax = [3, 3, 5, 10, 15]
d_yticks = [[0, 1.5, 3], [0, 1.5, 3], [0, 2.5, 5], [0, 5, 10], [0, 5, 10, 15]]

# ---------------- panel e: summary ----------------
e_sync = [0, 10, 25, 50, 100]
e_mean = [0, 1.24, 2.53, 6.8, 12.66]
e_sem = [0, 0.25, 0.3, 0.6, 2.0]
e_cells = {10: [2.43, 1.9, 1.4, 1.14, 0.72, 0.55],
           25: [3.6, 3.36, 3.1, 2.8, 2.43, 2.07, 1.55, 0.88],
           50: [14.5, 9.3, 8.1, 7.2, 6.0, 5.7, 5.3, 4.0, 2.84],
           100: [20.0, 18.55, 9.66, 9.3, 8.8, 8.4, 6.5]}


def px_axes(fig, x0, y0, x1, y1):
    return fig.add_axes([x0 / W, 1 - y1 / H, (x1 - x0) / W, (y1 - y0) / H])


def ftext(fig, x, y, s, **kw):
    return fig.text(x / W, 1 - y / H, s, **kw)


def style(ax, yticks, ylabels, xlabels=False):
    for s in ['top', 'right']:
        ax.spines[s].set_visible(False)
    for s in ['left', 'bottom']:
        ax.spines[s].set_linewidth(1.3)
    ax.tick_params(direction='out', length=5.5, width=1.3, labelsize=FS, pad=3)
    ax.set_xlim(-5, 20)
    ax.set_xticks([0, 10, 20])
    if not xlabels:
        ax.set_xticklabels([])
    ax.set_yticks(yticks)
    ax.set_yticklabels(ylabels)


fig = plt.figure(figsize=(W / 100, H / 100), dpi=100)

# panel a
a_rows = [(42, 112), (154, 224), (266, 336)]
a_text_y = [33, 144, 256]
for i, (y0, y1) in enumerate(a_rows):
    ax = px_axes(fig, 72, y0, 318, y1)
    if a_pause[i] > 0:
        ax.bar(0, a_pause[i], width=2.1, align='edge', color='#c8c8c8', lw=0, zorder=1)
    pts = np.array(a_spikes[i])
    ax.plot(pts[:, 0], pts[:, 1], 's', ms=1.9, color='k', mew=0, clip_on=False, zorder=2)
    ax.set_ylim(0, 40)
    style(ax, [0, 20, 40], ['0', '', '40'], xlabels=(i == 2))
    ftext(fig, 31, (y0 + y1) / 2, 'PC #', rotation=90, ha='center', va='center', fontsize=FS)
    ftext(fig, 318, a_text_y[i], a_labels[i], ha='right', va='center', fontsize=FS)
ftext(fig, 195, 383, 'Time (ms)', ha='center', va='center', fontsize=FS)

# panel b
MV = 1.55   # px per mV
axb = px_axes(fig, 62, 395, 322, 815)
axb.set_xlim((62 - 122) / 9.84, (322 - 122) / 9.84)
axb.set_ylim(0, 420 / MV)
axb.axis('off')
for g in range(3):
    off = b_offsets[g]
    for base, spks in zip(b_bases[g], b_spks[g]):
        pts = [(t, v) for t, v in zip(b_time, base) if all(abs(t - s) >= 1.0 for s, _ in spks)]
        for s, pk in spks:
            b = base[int(np.argmin(np.abs(b_time - s)))]
            for dt, dv in zip(spike_dt, spike_dv):
                pts.append((s + dt, pk if dv is None else b + dv))
        pts = sorted(p for p in pts if b_time[0] <= p[0] <= 19.8)
        pts = np.array(pts)
        axb.plot(pts[:, 0], pts[:, 1] + off, color='k', lw=0.9)
    axb.plot(b_bar_t, [b_bar_y[g]] * 2, color='k', lw=1.6)
axb.text(19.1, 247, b_labels[0], ha='right', va='center', fontsize=FS)
axb.text(19.1, 161, b_labels[1], ha='right', va='center', fontsize=FS)
axb.text(19.1, 82, b_labels[2], ha='right', va='center', fontsize=FS)
# scale bar 5 ms / 20 mV
axb.plot([1.1, 6.1, 6.1], [-1.3, -1.3, 18.7], color='k', lw=1.3, clip_on=False)
axb.text(3.1, 8.6, '5 ms', ha='center', va='center', fontsize=FS)
axb.text(6.85, 8.6, '20 mV', ha='left', va='center', fontsize=FS)

# panel e
axe = px_axes(fig, 83.3, 855, 320, 984)
axe.set_xlim(-0.73, 100.4)
axe.set_ylim(0, 20)
for x, vals in e_cells.items():
    axe.plot([x] * len(vals), vals, 'o', ms=6.2, mfc='none', mec='#8c8c8c', mew=1.1, clip_on=False, zorder=2)
sx = np.array(e_sync, float)
sy = np.array(e_mean)
slope = np.sum(sx * sy) / np.sum(sx * sx)
axe.plot([0, 100], [0, slope * 100], color='k', lw=1.5, zorder=3)
axe.errorbar(e_sync, e_mean, yerr=e_sem, fmt='o', ms=6.5, mfc='white', mec='k', mew=1.4,
             ecolor='k', elinewidth=1.3, capsize=0, clip_on=False, zorder=4)
for s in ['top', 'right']:
    axe.spines[s].set_visible(False)
for s in ['left', 'bottom']:
    axe.spines[s].set_linewidth(1.3)
axe.tick_params(axis='y', direction='out', length=7, width=1.3, labelsize=FS, pad=3)
axe.tick_params(axis='x', length=0, labelsize=FS, pad=10)
axe.set_xticks([0, 50, 100])
axe.set_yticks([0, 10, 20])
axe.set_yticklabels(['0', '', '20'])
ftext(fig, 34, 920, 'Δ Firing Rate\n(norm)', rotation=90, ha='center', va='center', fontsize=FS,
      linespacing=1.0)
ftext(fig, 200, 1033, '% Pause Synchrony', ha='center', va='center', fontsize=FS)

# panel c
c_rows = [(51, 201), (249, 396), (443, 591), (643, 791), (835, 987)]
c_text_y = [43, 245, 439, 638, 829]
for i, (y0, y1) in enumerate(c_rows):
    ax = px_axes(fig, 421.7, y0, 667, y1)
    pts = np.array(c_spikes[i])
    ax.plot(pts[:, 0], pts[:, 1], 's', ms=2.0, color='k', mew=0, clip_on=False)
    ax.set_ylim(0, 200)
    style(ax, [0, 100, 200], ['0', '', '200'], xlabels=(i == 4))
    ftext(fig, 375, (y0 + y1) / 2, 'Trial #', rotation=90, ha='center', va='center', fontsize=FS)
    ftext(fig, 667, c_text_y[i], c_labels[i], ha='right', va='center', fontsize=FS)
ftext(fig, 544, 1034, 'Time (ms)', ha='center', va='center', fontsize=FS)

# panel d
d_rows = [(50, 199.3), (245, 396.7), (439, 589), (639, 788.3), (836.7, 986.7)]
for i, (y0, y1) in enumerate(d_rows):
    ax = px_axes(fig, 773, y0, 1019.3, y1)
    r = np.array(d_rates[i])
    e = np.array(d_errs[i])
    ax.fill_between(d_time, r - e, r + e, color='#7a7a7a', lw=0.6, edgecolor='#a0a0a0', clip_on=False)
    ax.plot(d_time, r, color='k', lw=1.5)
    ax.set_ylim(0, d_ymax[i])
    yl = [''] * len(d_yticks[i])
    yl[0] = '0'
    yl[-1] = '%g' % d_yticks[i][-1]
    style(ax, d_yticks[i], yl, xlabels=(i == 4))
    ftext(fig, 724, (y0 + y1) / 2, 'Firing Rate (norm)', rotation=90, ha='center', va='center', fontsize=FS)
    ftext(fig, 1018, c_text_y[i], d_labels[i], ha='right', va='center', fontsize=FS)
ftext(fig, 896, 1034, 'Time (ms)', ha='center', va='center', fontsize=FS)

# panel letters
for s, x, y in [('a', 5, 17), ('b', 5, 418), ('c', 350, 17), ('d', 695, 17), ('e', 5, 846)]:
    ftext(fig, x, y, s, fontsize=20, fontweight='bold', ha='left', va='center')

plt.savefig('out.png', dpi=100)
plt.close()
